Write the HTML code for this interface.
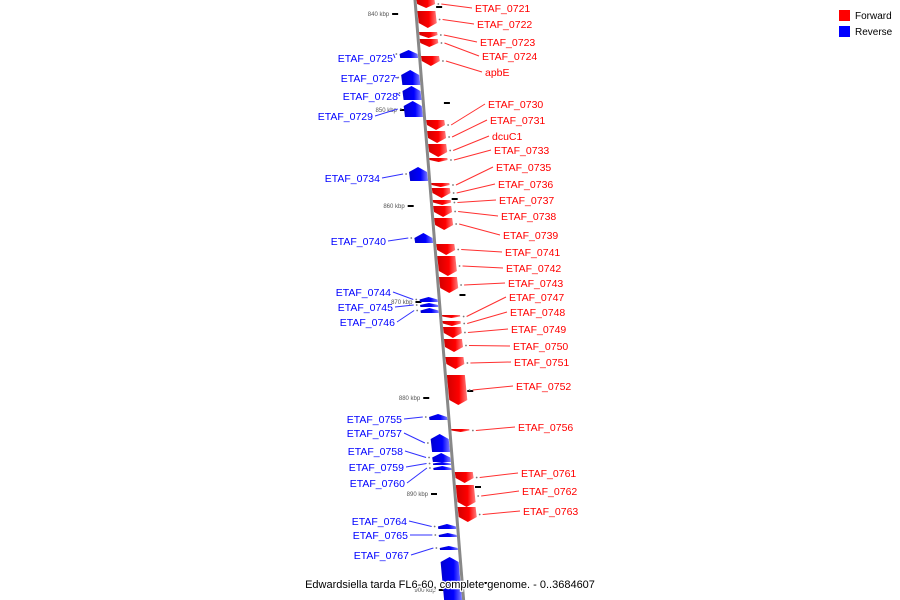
<!DOCTYPE html>
<html><head><meta charset="utf-8"><style>
html,body{margin:0;padding:0;background:#fff;width:900px;height:600px;overflow:hidden}
svg{display:block}
text{font-family:"Liberation Sans",sans-serif}
</style></head><body>
<svg id="chart" width="900" height="600" viewBox="0 0 900 600" xmlns="http://www.w3.org/2000/svg">
<defs>
 <linearGradient id="gr" x1="0" x2="1" y1="0" y2="0"><stop offset="0" stop-color="#d00000"/><stop offset="0.6" stop-color="#ff0000"/><stop offset="1" stop-color="#ff8080"/></linearGradient>
 <linearGradient id="gb" x1="0" x2="1" y1="0" y2="0"><stop offset="0" stop-color="#0000d0"/><stop offset="0.6" stop-color="#0000ff"/><stop offset="1" stop-color="#8080ff"/></linearGradient>
</defs>
<g id="genes"></g>
<g id="labels"></g>
<g id="legend">
 <rect x="839" y="10" width="11" height="11" fill="#ff0000"/>
 <text x="855" y="19" font-size="10" fill="#000">Forward</text>
 <rect x="839" y="26" width="11" height="11" fill="#0000ff"/>
 <text x="855" y="35" font-size="10" fill="#000">Reverse</text>
</g>
<text x="450" y="588" text-anchor="middle" font-size="11" fill="#000" stroke="#fff" stroke-width="2.5" paint-order="stroke">Edwardsiella tarda FL6-60, complete genome. - 0..3684607</text>
</svg>
<script>
const fwdNames=["ETAF_0721","ETAF_0722","ETAF_0723","ETAF_0724","apbE","ETAF_0730","ETAF_0731","dcuC1","ETAF_0733","ETAF_0735","ETAF_0736","ETAF_0737","ETAF_0738","ETAF_0739","ETAF_0741","ETAF_0742","ETAF_0743","ETAF_0747","ETAF_0748","ETAF_0749","ETAF_0750","ETAF_0751","ETAF_0752","ETAF_0756","ETAF_0761","ETAF_0762","ETAF_0763"];
const fwdStart=[0,11,32,39,56,120,131,144,158,183,188,200,206,218,244,256,277,315,321,327,339,357,375,429,472,485,507];
const fwdEnd=[8,28,38,47,66,130,143,157,162,187,198,205,217,230,255,276,293,318,326,338,352,369,405,432,483,507,522];
const fwdLabelY=[8,24,42,56,72,104,120,136,150,167,184,200,216,235,252,268,283,297,312,329,346,362,386,427,473,491,511];
const fwdLabelX=[475,477,480,482,485,488,490,492,494,496,498,499,501,503,505,506,508,509,510,511,513,514,516,518,521,522,523];
const revNames=["ETAF_0725","ETAF_0727","ETAF_0728","ETAF_0729","ETAF_0734","ETAF_0740","ETAF_0744","ETAF_0745","ETAF_0746","ETAF_0755","ETAF_0757","ETAF_0758","ETAF_0759","ETAF_0760","ETAF_0764","ETAF_0765","ETAF_0767",""];
const revStart=[50,70,86,101,167,233,297,303,308,414,434,453,462,466,524,533,546,557];
const revEnd=[58,85,100,117,181,243,302,307,313,420,452,462,465,470,529,537,550,600];
const revLabelY=[58,78,96,116,178,241,292,307,322,419,433,451,467,483,521,535,555,0];
const revLabelX=[393,396,398,373,380,386,391,393,395,402,402,403,404,405,407,408,409,0];
const tickLabels=["840 kbp","850 kbp","860 kbp","870 kbp","880 kbp","890 kbp","900 kbp"];
const tickY=[14,110,206,302,398,494,590];

const NS="http://www.w3.org/2000/svg";
const g=document.getElementById('genes'), lg=document.getElementById('labels');
function ax(y){return 415+0.081*y;}
function mk(t,a,p){const e=document.createElementNS(NS,t);for(const k in a)e.setAttribute(k,a[k]);(p||g).appendChild(e);return e;}

const axis=mk('line',{x1:ax(-5),y1:-5,x2:ax(605),y2:605,stroke:'#888',"stroke-width":3});



tickLabels.forEach((t,i)=>{
 const y=tickY[i], x=ax(y);
 const d=mk('line',{x1:x-24,y1:y,x2:x-18,y2:y,stroke:'#000',"stroke-width":2});
 
 
 const tx=mk('text',{x:x-27,y:y+2,"text-anchor":"end","font-size":6,fill:'#555'});
 tx.textContent=t;
 
 
 const d2=mk('line',{x1:x+20,y1:y-7,x2:x+26,y2:y-7,stroke:'#000',"stroke-width":2});
 
 
});

function gene(y0,y1,fwd){
 const h=y1-y0, tip=Math.min(5,h*0.5), w=18;
 const pts=[];
 if(fwd){
  const a0=ax(y0)+1.5,a1=ax(y1)+1.5;
  pts.push([a0,y0],[a0+w,y0],[a1+w,y1-tip],[(a1+a1+w)/2,y1],[a1,y1-tip]);
 } else {
  const a0=ax(y0)-1.5,a1=ax(y1)-1.5;
  pts.push([(a0+a0-w)/2,y0],[a0,y0+tip],[a1,y1],[a1-w,y1],[a0-w,y0+tip]);
 }
 return pts.map(p=>p.join(',')).join(' ');
}

fwdNames.forEach((n,i)=>{
 const y0=fwdStart[i],y1=fwdEnd[i];
 const p=mk('polygon',{points:gene(y0,y1,true),fill:'url(#gr)'});
 
 
 const m=(y0+y1)/2;
 const l=mk('line',{x1:ax(m)+26,y1:m,x2:fwdLabelX[i]-3,y2:fwdLabelY[i],stroke:'#ff3030',"stroke-width":1},lg);
 
 
 const t=mk('text',{x:fwdLabelX[i],y:fwdLabelY[i]+4,"font-size":10.5,fill:'#ff0000'},lg);
 t.textContent=n;
 
 
 const dot=mk('circle',{cx:ax(m)+23,cy:m,r:0.9,fill:'#777'});
 
 
});
revNames.forEach((n,i)=>{
 const y0=revStart[i],y1=revEnd[i];
 const p=mk('polygon',{points:gene(y0,y1,false),fill:'url(#gb)'});
 
 
 if(!n) return;
 const m=(y0+y1)/2;
 const l=mk('line',{x1:ax(m)-26,y1:m,x2:revLabelX[i]+2,y2:revLabelY[i],stroke:'#3030ff',"stroke-width":1},lg);
 
 
 const t=mk('text',{x:revLabelX[i],y:revLabelY[i]+4,"text-anchor":"end","font-size":10.5,fill:'#0000ff'},lg);
 t.textContent=n;
 
 
 const dot=mk('circle',{cx:ax(m)-23,cy:m,r:0.9,fill:'#777'});
 
 
});
</script>
</body></html>
